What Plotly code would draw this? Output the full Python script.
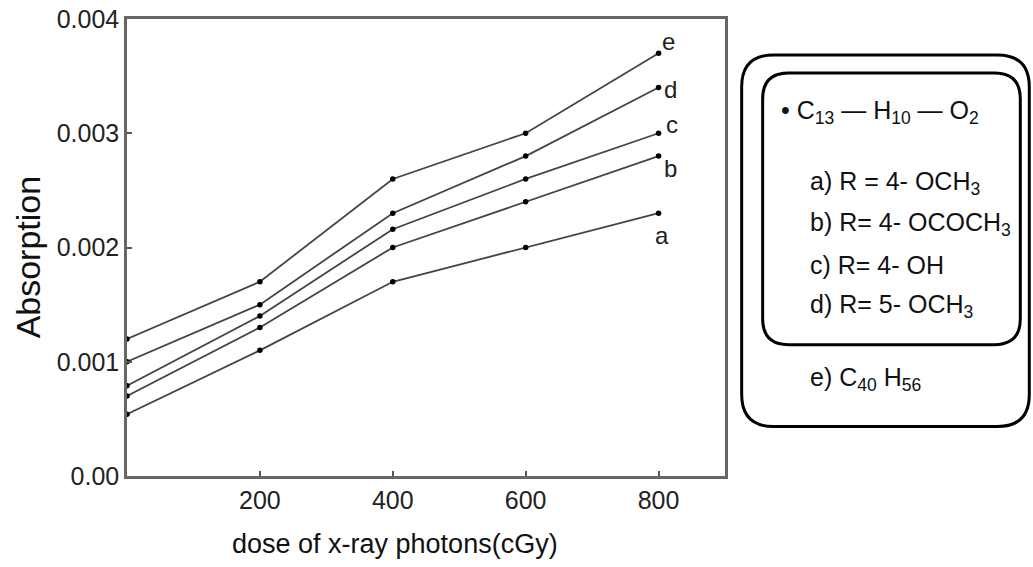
import plotly.graph_objects as go

# ---- data ----
doses = [0, 200, 400, 600, 800]
series_names = ["a", "b", "c", "d", "e"]
a_vals = [0.00054, 0.0011, 0.0017, 0.0020, 0.0023]
b_vals = [0.0007, 0.0013, 0.0020, 0.0024, 0.0028]
c_vals = [0.00079, 0.0014, 0.00216, 0.0026, 0.0030]
d_vals = [0.0010, 0.0015, 0.0023, 0.0028, 0.0034]
e_vals = [0.0012, 0.0017, 0.0026, 0.0030, 0.0037]
y_tickvals = [0, 0.001, 0.002, 0.003, 0.004]
y_ticktext = ["0.00", "0.001", "0.002", "0.003", "0.004"]
x_tickvals = [200, 400, 600, 800]
legend_lines = [
    "• C<sub>13</sub> — H<sub>10</sub> — O<sub>2</sub>",
    "a) R = 4- OCH<sub>3</sub>",
    "b) R= 4- OCOCH<sub>3</sub>",
    "c) R= 4- OH",
    "d) R= 5- OCH<sub>3</sub>",
    "e) C<sub>40</sub> H<sub>56</sub>",
]

W, H = 1033, 567
L, R, T, B = 126.5, 725.3, 19.0, 476.5
FONT = "Liberation Sans, Arial, sans-serif"

def px(x):
    return (x - L) / (R - L)

def py(y):
    return (B - y) / (B - T)

fig = go.Figure()
all_vals = [a_vals, b_vals, c_vals, d_vals, e_vals]
for name, vals in zip(series_names, all_vals):
    fig.add_trace(go.Scatter(
        x=doses, y=vals, mode="lines+markers", name=name,
        line=dict(color="#444444", width=1.8),
        marker=dict(color="black", size=5.5),
        cliponaxis=False, showlegend=False,
    ))

# end-of-line labels (offsets in px)
label_offsets = {"a": (3, -22), "b": (12, -12), "c": (13, 9), "d": (12, -2), "e": (10, 12)}
for name, vals in zip(series_names, all_vals):
    dx, dy = label_offsets[name]
    fig.add_annotation(x=doses[-1], y=vals[-1], text=name, showarrow=False,
                       xanchor="center", yanchor="middle",
                       xshift=dx, yshift=dy, font=dict(family=FONT, size=24, color="#222"))

def rrect(x0, y0, x1, y1, r):
    pts = [
        ("M", [(x0 + r, y0)]), ("L", [(x1 - r, y0)]), ("Q", [(x1, y0), (x1, y0 + r)]),
        ("L", [(x1, y1 - r)]), ("Q", [(x1, y1), (x1 - r, y1)]),
        ("L", [(x0 + r, y1)]), ("Q", [(x0, y1), (x0, y1 - r)]),
        ("L", [(x0, y0 + r)]), ("Q", [(x0, y0), (x0 + r, y0)]),
    ]
    s = ""
    for cmd, ps in pts:
        s += cmd + " " + " ".join(f"{px(x):.5f},{py(y):.5f}" for x, y in ps) + " "
    return s + "Z"

fig.add_shape(type="path", xref="paper", yref="paper", path=rrect(742, 55, 1030, 427, 32),
              line=dict(color="black", width=3))
fig.add_shape(type="path", xref="paper", yref="paper", path=rrect(763, 73, 1021, 345, 26),
              line=dict(color="black", width=3))

legend_pos = [(779, 112), (808, 183), (808, 224), (808, 265), (808, 306), (808, 379)]
for txt, (lx, ly) in zip(legend_lines, legend_pos):
    fig.add_annotation(xref="paper", yref="paper", x=px(lx), y=py(ly), text=txt,
                       showarrow=False, xanchor="left", yanchor="middle",
                       font=dict(family=FONT, size=25, color="#111"))

# axis titles
fig.add_annotation(xref="paper", yref="paper", x=px(395), y=py(545),
                   xanchor="center", yanchor="middle",
                   text="dose of x-ray photons(cGy)", showarrow=False,
                   font=dict(family=FONT, size=27, color="#111"))
fig.add_annotation(xref="paper", yref="paper", x=px(27), y=py(257), textangle=-90,
                   xanchor="center", yanchor="middle",
                   text="Absorption", showarrow=False,
                   font=dict(family=FONT, size=34, color="#111"))

axis_common = dict(showgrid=False, zeroline=False, showline=True, linecolor="#666",
                   linewidth=2.5, mirror=True, ticks="inside", ticklen=5, tickcolor="#555",
                   tickwidth=1.5, tickfont=dict(family=FONT, size=25, color="#222"))
fig.update_xaxes(range=[0, 900], tickvals=x_tickvals, **axis_common)
fig.update_yaxes(range=[0, 0.004], tickvals=y_tickvals, ticktext=y_ticktext, **axis_common)

fig.update_layout(width=W, height=H, paper_bgcolor="white", plot_bgcolor="white",
                  margin=dict(l=L, r=W - R, t=T, b=H - B, autoexpand=False))
fig.write_html("out.html", config={"displayModeBar": False},
               post_script="document.body.style.margin='0';")
